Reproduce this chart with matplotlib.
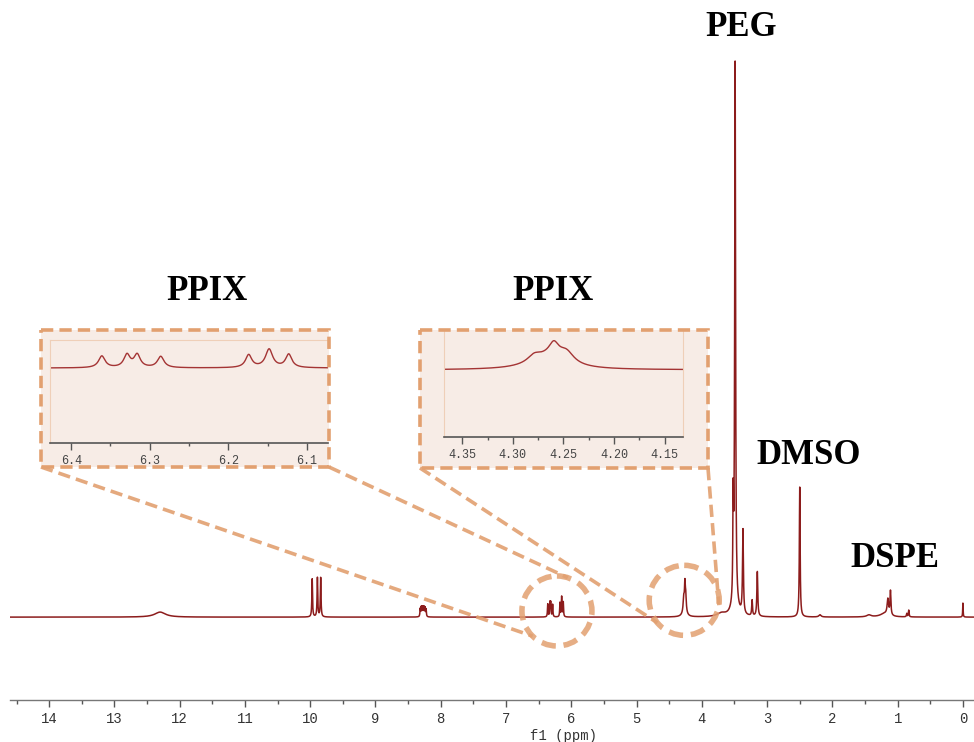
import numpy as np
import matplotlib.pyplot as plt
from matplotlib.patches import Rectangle, Circle
from matplotlib.ticker import MultipleLocator, FormatStrFormatter

# 1H NMR peak table: shift (ppm), height (PEG = 100), half width (ppm)
shifts = [12.30, 9.97, 9.89, 9.84,
          8.315, 8.30, 8.285, 8.27, 8.255, 8.24, 8.225,
          6.361, 6.329, 6.316, 6.286, 6.174, 6.148, 6.123,
          4.279, 4.2595, 4.247, 4.265,
          3.70, 3.52, 3.49, 3.49, 3.37, 3.23, 3.15,
          2.50, 2.19, 1.44, 1.20, 1.15, 1.11, 0.86, 0.83, 0.0]
heights = [0.9, 6.8, 7.0, 7.0,
           1.4, 1.6, 1.6, 1.6, 1.6, 1.5, 1.3,
           2.3, 2.5, 2.5, 2.2, 2.5, 3.6, 2.6,
           1.6, 3.2, 2.6, 2.7,
           0.6, 17.0, 97.0, 1.5, 15.0, 2.8, 8.0,
           23.2, 0.4, 0.35, 0.6, 2.8, 4.3, 0.6, 1.2, 2.5]
widths = [0.10, 0.006, 0.006, 0.006,
          0.005, 0.005, 0.005, 0.005, 0.005, 0.005, 0.005,
          0.005, 0.0048, 0.0048, 0.005, 0.0048, 0.0055, 0.0048,
          0.008, 0.006, 0.009, 0.022,
          0.08, 0.006, 0.008, 0.06, 0.008, 0.007, 0.008,
          0.007, 0.02, 0.04, 0.08, 0.013, 0.008, 0.006, 0.006, 0.004]

labels = ["PEG", "DMSO", "DSPE"]
label_pos = [(3.40, 105.2), (2.36, 28.9), (1.04, 10.4)]


def spectrum(ppm):
    y = np.zeros_like(ppm)
    for s, h, w in zip(shifts, heights, widths):
        y += h / (1 + ((ppm - s) / w) ** 2)
    return y


W, H = 974, 742
line_col = "#8c1c1c"
orange = "#e2a070"
fill_col = "#f7ece6"
mono = "Liberation Mono"
serif_bold = dict(family="Liberation Serif", weight="bold", size=25)


def fig_box(left, top, right, bottom):
    # pixel box (y from top) -> figure fraction rect
    return [left / W, 1 - bottom / H, (right - left) / W, (bottom - top) / H]


fig = plt.figure(figsize=(W / 100, H / 100), dpi=100)

# ---- main spectrum ----
ax = fig.add_axes(fig_box(10, 0, 974, 700))
x = np.linspace(14.6, -0.17, 60000)
ax.plot(x, spectrum(x), color=line_col, lw=1.1)
ax.set_xlim(14.6, -0.17)
ax.set_ylim(-14.8, 110.2)
ax.set_facecolor("none")
for side in ["top", "left", "right"]:
    ax.spines[side].set_visible(False)
ax.spines["bottom"].set_color("#777777")
ax.spines["bottom"].set_linewidth(1.0)
ax.set_yticks([])
ax.xaxis.set_major_locator(MultipleLocator(1))
ax.xaxis.set_minor_locator(MultipleLocator(0.5))
ax.xaxis.set_major_formatter(FormatStrFormatter("%d"))
ax.tick_params(axis="x", which="major", length=5, width=1, color="#555555",
               labelsize=10, labelcolor="#333333", pad=3.5)
ax.tick_params(axis="x", which="minor", length=3, width=1, color="#555555")
for t in ax.get_xticklabels():
    t.set_family(mono)
ax.set_xlabel("f1 (ppm)", family=mono, fontsize=10, color="#333333")
ax.xaxis.set_label_coords(0.574, -0.042)

for txt, (px, py) in zip(labels, label_pos):
    ax.text(px, py, txt, ha="center", va="center", **serif_bold)

# box fills sit under the insets
ax.add_patch(Rectangle((41 / W, 1 - 467 / H), 288 / W, 137 / H, transform=fig.transFigure,
                       facecolor=fill_col, edgecolor="none", clip_on=False, zorder=0))
ax.add_patch(Rectangle((420 / W, 1 - 468 / H), 288 / W, 138 / H, transform=fig.transFigure,
                       facecolor=fill_col, edgecolor="none", clip_on=False, zorder=0))


def style_inset(axi, faint_sides):
    axi.set_facecolor("none")
    for side in ["top", "left", "right"]:
        if side in faint_sides:
            axi.spines[side].set_color("#efcfb8")
            axi.spines[side].set_linewidth(0.8)
        else:
            axi.spines[side].set_visible(False)
    axi.spines["bottom"].set_color("#555555")
    axi.spines["bottom"].set_linewidth(1.2)
    axi.set_yticks([])
    axi.tick_params(axis="x", which="major", length=5, width=1, color="#555555",
                    labelsize=8.5, labelcolor="#444444", pad=3.5)
    axi.tick_params(axis="x", which="minor", length=2.5, width=1, color="#555555")
    for t in axi.get_xticklabels():
        t.set_family(mono)


# ---- inset 1: 6.4-6.1 ppm ----
ax1 = fig.add_axes(fig_box(50, 340, 328, 443))
x1 = np.linspace(6.427, 6.073, 4000)
ax1.plot(x1, spectrum(x1), color="#a43434", lw=1.0)
ax1.set_xlim(6.427, 6.073)
ax1.set_ylim(-14.7, 5.5)
ax1.xaxis.set_major_locator(MultipleLocator(0.1))
ax1.xaxis.set_minor_locator(MultipleLocator(0.05))
ax1.xaxis.set_major_formatter(FormatStrFormatter("%.1f"))
style_inset(ax1, ["top", "left"])

# ---- inset 2: 4.35-4.15 ppm ----
ax2 = fig.add_axes(fig_box(444, 330, 683, 437))
x2 = np.linspace(4.368, 4.132, 4000)
ax2.plot(x2, spectrum(x2), color="#a43434", lw=1.0)
ax2.set_xlim(4.368, 4.132)
ax2.set_ylim(-15.7, 9.4)
ax2.xaxis.set_major_locator(MultipleLocator(0.05))
ax2.xaxis.set_minor_locator(MultipleLocator(0.025))
ax2.xaxis.set_major_formatter(FormatStrFormatter("%.2f"))
style_inset(ax2, ["left", "right"])

fig.text(207 / W, 1 - 292 / H, "PPIX", ha="center", va="center", **serif_bold)
fig.text(553 / W, 1 - 292 / H, "PPIX", ha="center", va="center", **serif_bold)

# ---- overlay in pixel coordinates: dashed borders, circles, connectors ----
ov = fig.add_axes([0, 0, 1, 1])
ov.set_xlim(0, W)
ov.set_ylim(H, 0)
ov.axis("off")
dash = (0, (3.4, 1.7))
ov.add_patch(Rectangle((41, 330), 288, 137, fill=False, edgecolor=orange, lw=2.6, linestyle=dash))
ov.add_patch(Rectangle((420, 330), 288, 138, fill=False, edgecolor=orange, lw=2.6, linestyle=dash))


def to_px(ppm, val):
    dx, dy = ax.transData.transform((ppm, val))
    return dx, H - dy


r = 35
c1 = to_px(6.22, 1.1)
c2 = to_px(4.27, 3.0)
for c in (c1, c2):
    ov.add_patch(Circle(c, r, fill=False, edgecolor=orange, lw=4, linestyle=(0, (2.6, 1.4)), alpha=0.85))


def on_circle(c, ang):
    a = np.deg2rad(ang)
    return c[0] + r * np.cos(a), c[1] - r * np.sin(a)


connectors = [((41, 467), on_circle(c1, 226)), ((329, 467), on_circle(c1, 72)),
              ((420, 468), on_circle(c2, 220)), ((708, 468), on_circle(c2, -8))]
for (xa, ya), (xb, yb) in connectors:
    ov.plot([xa, xb], [ya, yb], color=orange, lw=2.6, linestyle=dash, alpha=0.9)

fig.savefig("out.png", dpi=100)
